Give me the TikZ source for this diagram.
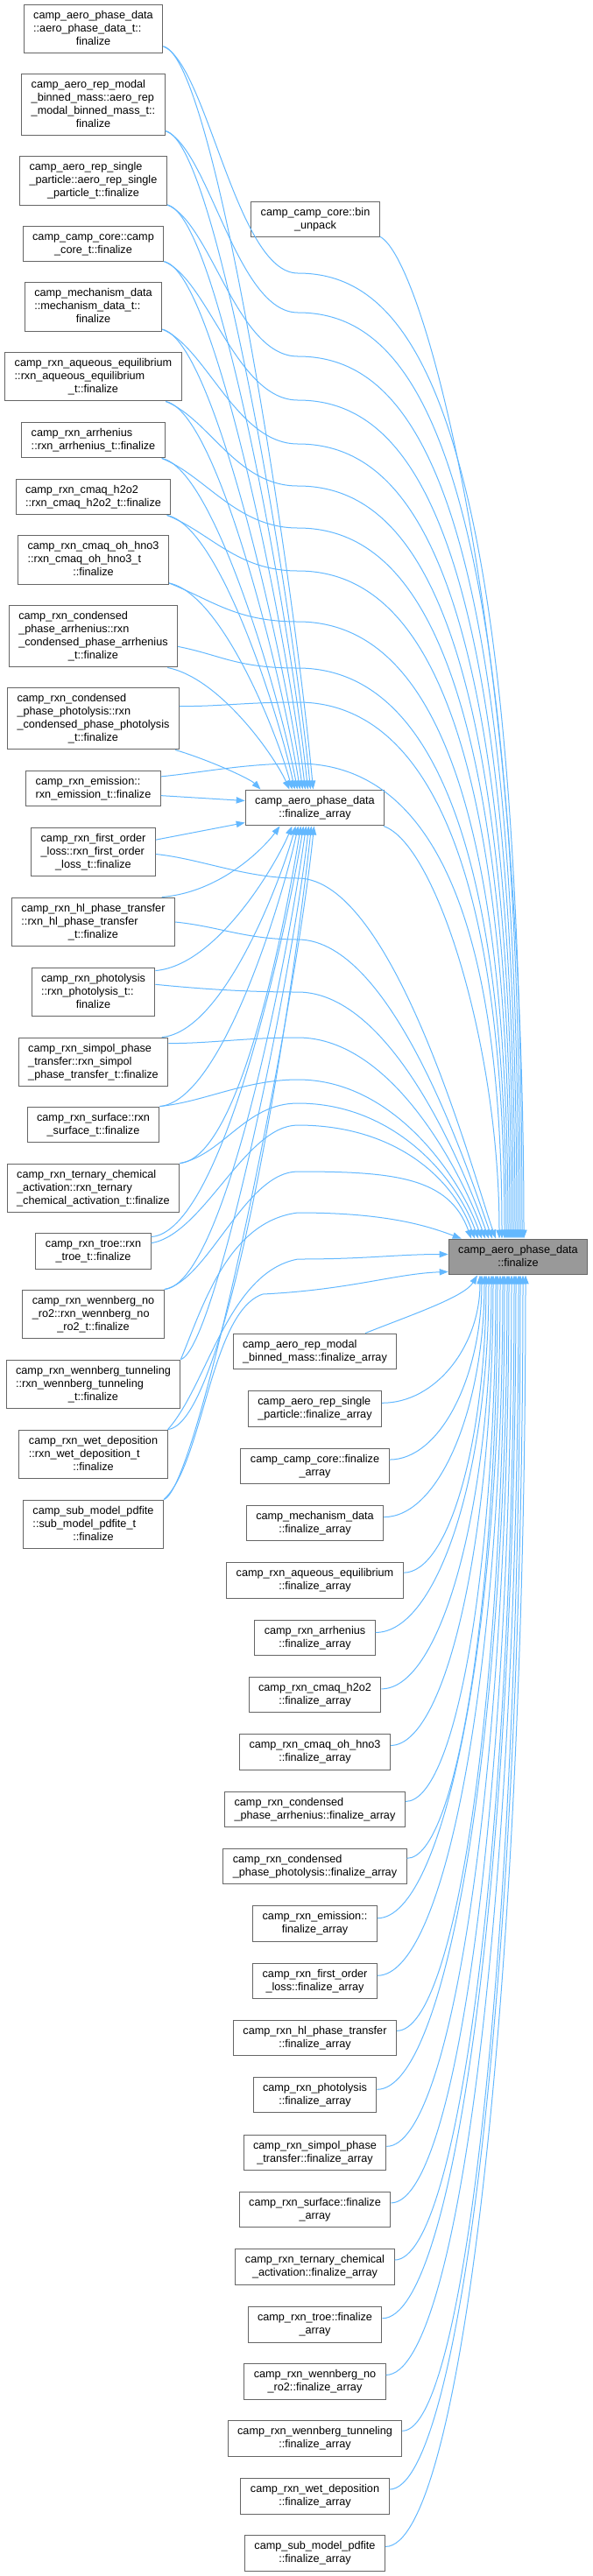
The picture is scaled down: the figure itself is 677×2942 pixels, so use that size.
\documentclass[tikz,border=0pt]{standalone}
\usepackage{fontspec}
\setmainfont{Liberation Sans}
\usetikzlibrary{arrows.meta,calc}
\definecolor{edgeblue}{HTML}{63B8FF}
\definecolor{boxgray}{HTML}{666666}
\definecolor{selgray}{HTML}{999999}
\newcommand{\fnl}[2]{\begin{tabular}{@{}l@{}}#1\\\multicolumn{1}{@{}c@{}}{#2}\end{tabular}}
\tikzset{
  fnbox/.style={draw=boxgray,line width=0.75pt,fill=white,inner xsep=8.25pt,inner ysep=4.1pt,
    font={\fontsize{9.5}{11.25}\selectfont}},
  curfn/.style={fnbox,fill=selgray},
  callline/.style={draw=edgeblue,line width=0.75pt,-{Triangle[length=7.5pt,width=5.5pt]}}
}

\begin{document}
\begin{tikzpicture}[x=0.75pt,y=-0.75pt]
\useasboundingbox (0,0) rectangle (677,2942);

% callers of finalize_array
\node[fnbox] (l1) at (106.5,33) {\fnl{camp\_aero\_phase\_data\\::aero\_phase\_data\_t::}{finalize}};
\node[fnbox] (l2) at (106.5,119.5) {\fnl{camp\_aero\_rep\_modal\\\_binned\_mass::aero\_rep\\\_modal\_binned\_mass\_t::}{finalize}};
\node[fnbox] (l3) at (106.5,206.5) {\fnl{camp\_aero\_rep\_single\\\_particle::aero\_rep\_single}{\_particle\_t::finalize}};
\node[fnbox] (l4) at (106.5,278.5) {\fnl{camp\_camp\_core::camp}{\_core\_t::finalize}};
\node[fnbox] (l5) at (106.5,350.5) {\fnl{camp\_mechanism\_data\\::mechanism\_data\_t::}{finalize}};
\node[fnbox] (l6) at (106.5,430) {\fnl{camp\_rxn\_aqueous\_equilibrium\\::rxn\_aqueous\_equilibrium}{\_t::finalize}};
\node[fnbox] (l7) at (106.5,502.5) {\fnl{camp\_rxn\_arrhenius}{::rxn\_arrhenius\_t::finalize}};
\node[fnbox] (l8) at (106.5,567.5) {\fnl{camp\_rxn\_cmaq\_h2o2}{::rxn\_cmaq\_h2o2\_t::finalize}};
\node[fnbox] (l9) at (106.5,639.5) {\fnl{camp\_rxn\_cmaq\_oh\_hno3\\::rxn\_cmaq\_oh\_hno3\_t}{::finalize}};
\node[fnbox] (l10) at (106.5,726.5) {\fnl{camp\_rxn\_condensed\\\_phase\_arrhenius::rxn\\\_condensed\_phase\_arrhenius}{\_t::finalize}};
\node[fnbox] (l11) at (106.5,820.5) {\fnl{camp\_rxn\_condensed\\\_phase\_photolysis::rxn\\\_condensed\_phase\_photolysis}{\_t::finalize}};
\node[fnbox] (l12) at (106.5,900.5) {\fnl{camp\_rxn\_emission::}{rxn\_emission\_t::finalize}};
\node[fnbox] (l13) at (106.5,973) {\fnl{camp\_rxn\_first\_order\\\_loss::rxn\_first\_order}{\_loss\_t::finalize}};
\node[fnbox] (l14) at (106.5,1053) {\fnl{camp\_rxn\_hl\_phase\_transfer\\::rxn\_hl\_phase\_transfer}{\_t::finalize}};
\node[fnbox] (l15) at (106.5,1133) {\fnl{camp\_rxn\_photolysis\\::rxn\_photolysis\_t::}{finalize}};
\node[fnbox] (l16) at (106.5,1213) {\fnl{camp\_rxn\_simpol\_phase\\\_transfer::rxn\_simpol}{\_phase\_transfer\_t::finalize}};
\node[fnbox] (l17) at (106.5,1284.5) {\fnl{camp\_rxn\_surface::rxn}{\_surface\_t::finalize}};
\node[fnbox] (l18) at (106.5,1357) {\fnl{camp\_rxn\_ternary\_chemical\\\_activation::rxn\_ternary}{\_chemical\_activation\_t::finalize}};
\node[fnbox] (l19) at (106.5,1429) {\fnl{camp\_rxn\_troe::rxn}{\_troe\_t::finalize}};
\node[fnbox] (l20) at (106.5,1501) {\fnl{camp\_rxn\_wennberg\_no\\\_ro2::rxn\_wennberg\_no}{\_ro2\_t::finalize}};
\node[fnbox] (l21) at (106.5,1581) {\fnl{camp\_rxn\_wennberg\_tunneling\\::rxn\_wennberg\_tunneling}{\_t::finalize}};
\node[fnbox] (l22) at (106.5,1661) {\fnl{camp\_rxn\_wet\_deposition\\::rxn\_wet\_deposition\_t}{::finalize}};
\node[fnbox] (l23) at (106.5,1741) {\fnl{camp\_sub\_model\_pdfite\\::sub\_model\_pdfite\_t}{::finalize}};

% middle column
\node[fnbox] (bu) at (360,250.5) {\fnl{camp\_camp\_core::bin}{\_unpack}};
\node[fnbox] (fa) at (359.5,922.5) {\fnl{camp\_aero\_phase\_data}{::finalize\_array}};
\node[fnbox] (m1) at (359.5,1543.5) {\fnl{camp\_aero\_rep\_modal}{\_binned\_mass::finalize\_array}};
\node[fnbox] (m2) at (359.5,1609) {\fnl{camp\_aero\_rep\_single}{\_particle::finalize\_array}};
\node[fnbox] (m3) at (359.5,1674.5) {\fnl{camp\_camp\_core::finalize}{\_array}};
\node[fnbox] (m4) at (359.5,1739.5) {\fnl{camp\_mechanism\_data}{::finalize\_array}};
\node[fnbox] (m5) at (359.5,1805) {\fnl{camp\_rxn\_aqueous\_equilibrium}{::finalize\_array}};
\node[fnbox] (m6) at (359.5,1870.5) {\fnl{camp\_rxn\_arrhenius}{::finalize\_array}};
\node[fnbox] (m7) at (359.5,1935.5) {\fnl{camp\_rxn\_cmaq\_h2o2}{::finalize\_array}};
\node[fnbox] (m8) at (359.5,2001) {\fnl{camp\_rxn\_cmaq\_oh\_hno3}{::finalize\_array}};
\node[fnbox] (m9) at (359.5,2066.5) {\fnl{camp\_rxn\_condensed}{\_phase\_arrhenius::finalize\_array}};
\node[fnbox] (m10) at (359.5,2131.5) {\fnl{camp\_rxn\_condensed}{\_phase\_photolysis::finalize\_array}};
\node[fnbox] (m11) at (359.5,2197) {\fnl{camp\_rxn\_emission::}{finalize\_array}};
\node[fnbox] (m12) at (359.5,2262.5) {\fnl{camp\_rxn\_first\_order}{\_loss::finalize\_array}};
\node[fnbox] (m13) at (359.5,2327.5) {\fnl{camp\_rxn\_hl\_phase\_transfer}{::finalize\_array}};
\node[fnbox] (m14) at (359.5,2392.5) {\fnl{camp\_rxn\_photolysis}{::finalize\_array}};
\node[fnbox] (m15) at (359.5,2458.5) {\fnl{camp\_rxn\_simpol\_phase}{\_transfer::finalize\_array}};
\node[fnbox] (m16) at (359.5,2523.5) {\fnl{camp\_rxn\_surface::finalize}{\_array}};
\node[fnbox] (m17) at (359.5,2589) {\fnl{camp\_rxn\_ternary\_chemical}{\_activation::finalize\_array}};
\node[fnbox] (m18) at (359.5,2654.5) {\fnl{camp\_rxn\_troe::finalize}{\_array}};
\node[fnbox] (m19) at (359.5,2719.5) {\fnl{camp\_rxn\_wennberg\_no}{\_ro2::finalize\_array}};
\node[fnbox] (m20) at (359.5,2785) {\fnl{camp\_rxn\_wennberg\_tunneling}{::finalize\_array}};
\node[fnbox] (m21) at (359.5,2850.5) {\fnl{camp\_rxn\_wet\_deposition}{::finalize\_array}};
\node[fnbox] (m22) at (359.5,2915.5) {\fnl{camp\_sub\_model\_pdfite}{::finalize\_array}};

\node[curfn] (tgt) at (591.5,1435.5) {\fnl{camp\_aero\_phase\_data}{::finalize}};

% into finalize_array
\draw[callline] (l1.-14) .. controls +(60,12) and +(-21,-229) .. ($(fa.north)+(-2,0)$);
\draw[callline] (l2.-20) .. controls +(60,12) and +(-20,-203) .. ($(fa.north)+(-5,0)$);
\draw[callline] (l3.-18) .. controls +(60,12) and +(-19,-180) .. ($(fa.north)+(-8,0)$);
\draw[callline] (l4.-14) .. controls +(60,12) and +(-19,-163) .. ($(fa.north)+(-11,0)$);
\draw[callline] (l5.-18) .. controls +(60,12) and +(-19,-142) .. ($(fa.north)+(-14,0)$);
\draw[callline] (l6.-19) .. controls +(60,12) and +(-19,-120) .. ($(fa.north)+(-17,0)$);
\draw[callline] (l7.-15) .. controls +(60,12) and +(-19,-102) .. ($(fa.north)+(-20,0)$);
\draw[callline] (l8.-14) .. controls +(60,12) and +(-18,-85) .. ($(fa.north)+(-23,0)$);
\draw[callline] (l9.-17) .. controls +(60,12) and +(-17,-64) .. ($(fa.north)+(-26,0)$);
\draw[callline] (l10.-23) .. controls +(60,12) and +(-17,-38) .. ($(fa.north)+(-29,0)$);
\draw[callline] (l11.-21) .. controls +(40,12) and +(-12,-12) .. ($(fa.north)+(-62,0)$);
\draw[callline] (l12.-6) -- ($(fa.west)+(0,-8)$);
\draw[callline] (l13.11) -- ($(fa.west)+(0,17)$);
\draw[callline] (l14.20) .. controls +(70,-6) and +(-16,22) .. ($(fa.south)+(-40,0)$);
\draw[callline] (l15.19) .. controls +(70,-6) and +(-19,45) .. ($(fa.south)+(-26,0)$);
\draw[callline] (l16.20) .. controls +(70,-6) and +(-18,65) .. ($(fa.south)+(-22,0)$);
\draw[callline] (l17.north east) .. controls +(70,-6) and +(-19,87) .. ($(fa.south)+(-19,0)$);
\draw[callline] (l18.north east) .. controls +(70,-6) and +(-17,104) .. ($(fa.south)+(-16,0)$);
\draw[callline] (l19.14) .. controls +(80,-5) and +(-21,127) .. ($(fa.south)+(-13,0)$);
\draw[callline] (l20.north east) .. controls +(70,-6) and +(-20,143) .. ($(fa.south)+(-10,0)$);
\draw[callline] (l21.north east) .. controls +(40,-12) and +(-18,165) .. ($(fa.south)+(-7,0)$);
\draw[callline] (l22.north east) .. controls +(70,-6) and +(-20,186) .. ($(fa.south)+(-4,0)$);
\draw[callline] (l23.north east) .. controls +(40,-12) and +(-21,208) .. ($(fa.south)+(-1,0)$);

% into finalize, from above
\draw[callline] (bu.-15) .. controls +(50,25) and +(0,-700) .. ($(tgt.north)+(6.5,0)$);
\draw[callline] (l1.-14) .. controls +(50,20) and +(-70,0) .. (340,312) .. controls +(130,0) and +(0,-953) .. ($(tgt.north)+(4.5,0)$);
\draw[callline] (l2.-20) .. controls +(50,20) and +(-70,0) .. (340,357) .. controls +(130,0) and +(0,-908) .. ($(tgt.north)+(2.5,0)$);
\draw[callline] (l3.-18) .. controls +(50,20) and +(-70,0) .. (340,407) .. controls +(130,0) and +(0,-858) .. ($(tgt.north)+(0.5,0)$);
\draw[callline] (l4.-14) .. controls +(50,20) and +(-70,0) .. (340,457) .. controls +(130,0) and +(0,-808) .. ($(tgt.north)+(-1.5,0)$);
\draw[callline] (l5.-18) .. controls +(50,20) and +(-70,0) .. (340,507) .. controls +(130,0) and +(0,-758) .. ($(tgt.north)+(-3.5,0)$);
\draw[callline] (l6.-19) .. controls +(50,20) and +(-70,0) .. (340,555) .. controls +(130,0) and +(0,-710) .. ($(tgt.north)+(-5.5,0)$);
\draw[callline] (l7.-15) .. controls +(50,20) and +(-70,0) .. (340,603) .. controls +(130,0) and +(0,-662) .. ($(tgt.north)+(-7.5,0)$);
\draw[callline] (l8.-14) .. controls +(50,20) and +(-70,0) .. (340,652) .. controls +(130,0) and +(0,-613) .. ($(tgt.north)+(-9.5,0)$);
\draw[callline] (l9.-17) .. controls +(50,20) and +(-70,0) .. (340,710) .. controls +(130,0) and +(0,-555) .. ($(tgt.north)+(-11.5,0)$);
\draw[callline] (l10.-7) .. controls +(50,10) and +(-70,0) .. (340,763) .. controls +(130,0) and +(0,-502) .. ($(tgt.north)+(-13.5,0)$);
\draw[callline] (l11.8) .. controls +(50,0) and +(-60,0) .. (340,802) .. controls +(130,0) and +(0,-463) .. ($(tgt.north)+(-15.5,0)$);
\draw[callline] (l12.10) .. controls +(50,-5) and +(-60,0) .. (340,872) .. controls +(140,0) and +(0,-393) .. ($(tgt.north)+(-18.5,0)$);
\draw[callline] (fa.-15) .. controls +(60,20) and +(0,-220) .. ($(tgt.north)+(-21.5,0)$);
\draw[callline] (l13.-2) .. controls +(50,5) and +(-60,0) .. (340,1003) .. controls +(110,0) and +(-25,-70) .. ($(tgt.north)+(-25.5,0)$);
\draw[callline] (l14.0) .. controls +(50,5) and +(-60,0) .. (340,1073) .. controls +(110,0) and +(-25,-70) .. ($(tgt.north)+(-29.5,0)$);
\draw[callline] (l15.7) .. controls +(50,5) and +(-60,0) .. (340,1133) .. controls +(110,0) and +(-25,-70) .. ($(tgt.north)+(-33.5,0)$);
\draw[callline] (l16.14) .. controls +(50,0) and +(-60,0) .. (340,1185) .. controls +(110,0) and +(-25,-70) .. ($(tgt.north)+(-37.5,0)$);
\draw[callline] (l17.north east) .. controls +(50,-5) and +(-60,0) .. (340,1233) .. controls +(110,0) and +(-25,-70) .. ($(tgt.north)+(-41.5,0)$);
\draw[callline] (l18.north east) .. controls +(50,-10) and +(-60,0) .. (340,1260) .. controls +(110,0) and +(-25,-70) .. ($(tgt.north)+(-45.5,0)$);
\draw[callline] (l19.8) .. controls +(60,-10) and +(-60,0) .. (340,1285) .. controls +(110,0) and +(-25,-70) .. ($(tgt.north)+(-49.5,0)$);
\draw[callline] (l20.north east) .. controls +(50,-10) and +(-60,0) .. (340,1338) .. controls +(110,0) and +(-25,-70) .. ($(tgt.north)+(-53.5,0)$);

% into finalize, from the left
\draw[callline] (l21.north east) .. controls +(25,-60) and +(-80,10) .. (340,1385) .. controls +(100,0) and +(-40,-15) .. ($(tgt.north west)+(15,0)$);
\draw[callline] (l22.north east) .. controls +(45,-50) and +(-80,15) .. (340,1438) .. controls +(80,0) and +(-60,0) .. ($(tgt.west)+(0,-3)$);
\draw[callline] (l23.north east) .. controls +(45,-40) and +(-60,20) .. (300,1478) .. controls +(100,-5) and +(-60,2) .. ($(tgt.south west)+(0,-4)$);

% into finalize, from below
\draw[callline] (m1.20) .. controls +(50,-20) and +(-15,25) .. ($(tgt.south)+(-46.5,0)$);
\draw[callline] (m2.5) .. controls +(62,0) and +(0,80) .. ($(tgt.south)+(-43.5,0)$);
\draw[callline] (m3.5) .. controls +(58,0) and +(0,116) .. ($(tgt.south)+(-41.5,0)$);
\draw[callline] (m4.5) .. controls +(63,0) and +(0,152) .. ($(tgt.south)+(-38.5,0)$);
\draw[callline] (m5.5) .. controls +(52,0) and +(0,187) .. ($(tgt.south)+(-36.5,0)$);
\draw[callline] (m6.5) .. controls +(71,0) and +(0,225) .. ($(tgt.south)+(-33.5,0)$);
\draw[callline] (m7.5) .. controls +(69,0) and +(0,260) .. ($(tgt.south)+(-30.5,0)$);
\draw[callline] (m8.5) .. controls +(64,0) and +(0,296) .. ($(tgt.south)+(-28.5,0)$);
\draw[callline] (m9.5) .. controls +(58,0) and +(0,331) .. ($(tgt.south)+(-25.5,0)$);
\draw[callline] (m10.5) .. controls +(57,0) and +(0,367) .. ($(tgt.south)+(-23.5,0)$);
\draw[callline] (m11.5) .. controls +(77,0) and +(0,404) .. ($(tgt.south)+(-20.5,0)$);
\draw[callline] (m12.5) .. controls +(79,0) and +(0,440) .. ($(tgt.south)+(-17.5,0)$);
\draw[callline] (m13.5) .. controls +(68,0) and +(0,475) .. ($(tgt.south)+(-15.5,0)$);
\draw[callline] (m14.5) .. controls +(81,0) and +(0,512) .. ($(tgt.south)+(-12.5,0)$);
\draw[callline] (m15.5) .. controls +(76,0) and +(0,548) .. ($(tgt.south)+(-10.5,0)$);
\draw[callline] (m16.5) .. controls +(76,0) and +(0,583) .. ($(tgt.south)+(-7.5,0)$);
\draw[callline] (m17.5) .. controls +(75,0) and +(0,619) .. ($(tgt.south)+(-4.5,0)$);
\draw[callline] (m18.5) .. controls +(84,0) and +(0,656) .. ($(tgt.south)+(-2.5,0)$);
\draw[callline] (m19.5) .. controls +(84,0) and +(0,691) .. ($(tgt.south)+(0.5,0)$);
\draw[callline] (m20.5) .. controls +(74,0) and +(0,726) .. ($(tgt.south)+(2.5,0)$);
\draw[callline] (m21.5) .. controls +(83,0) and +(0,763) .. ($(tgt.south)+(5.5,0)$);
\draw[callline] (m22.5) .. controls +(88,0) and +(0,799) .. ($(tgt.south)+(8.5,0)$);
\end{tikzpicture}
\end{document}
